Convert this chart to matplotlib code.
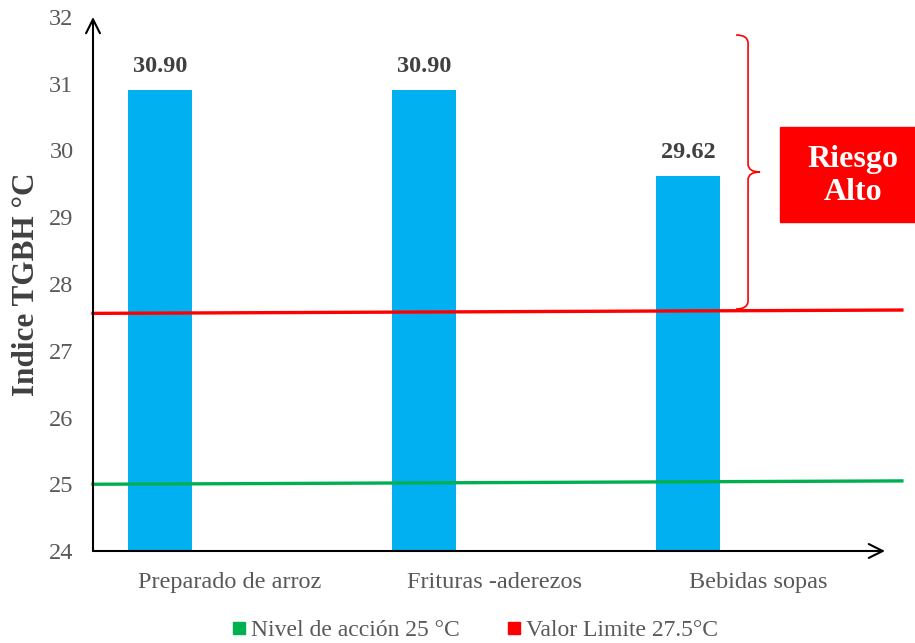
import matplotlib.pyplot as plt
import matplotlib.lines as mlines
from matplotlib.path import Path
from matplotlib.patches import PathPatch, Rectangle

# data
categories = ['Preparado de arroz', 'Frituras -aderezos', 'Bebidas sopas']
tgbh = [30.90, 30.90, 29.62]
nivel_accion = [25.0, 25.05]      # left / right end of the drawn line
valor_limite = [27.56, 27.61]
y_ticks = [24, 25, 26, 27, 28, 29, 30, 31, 32]
legend_labels = ['Nivel de acción 25 °C', 'Valor Limite 27.5°C']

plt.rcParams['font.family'] = ['Liberation Serif', 'DejaVu Serif']

fig = plt.figure(figsize=(9.15, 6.43), dpi=100)
ax = fig.add_axes([93 / 915, 1 - 551 / 643, 792 / 915, 534 / 643])

x = list(range(len(categories)))
ax.bar(x, tgbh, width=0.242, color='#00B0F0', zorder=2)
for xi, v in zip(x, tgbh):
    ax.text(xi, v + 0.2, f'{v:.2f}', ha='center', va='bottom',
            fontsize=17.5, fontweight='bold', color='#404040')

xmin, xmax = -0.254, 2.746
ax.set_xlim(xmin, xmax)
ax.set_ylim(24, 32)

# reference lines (slightly extend past the axis like the original)
xl = [xmin, 2.81]
ax.plot(xl, nivel_accion, color='#00B050', lw=2.4, clip_on=False, zorder=3)
ax.plot(xl, valor_limite, color='#FF0000', lw=2.4, clip_on=False, zorder=3)

# axes with arrows
for s in ax.spines.values():
    s.set_visible(False)
ax.annotate('', xy=(xmin, 32), xytext=(xmin, 24),
            arrowprops=dict(arrowstyle='->', color='black', lw=1.5,
                            mutation_scale=25, shrinkA=0, shrinkB=0))
ax.annotate('', xy=(xmax, 24), xytext=(xmin, 24),
            arrowprops=dict(arrowstyle='->', color='black', lw=1.5,
                            mutation_scale=25, shrinkA=0, shrinkB=0))

ax.set_yticks(y_ticks)
# category labels sit a bit right of the bars in the original
ax.set_xticks([xi + 0.265 for xi in x])
ax.set_xticklabels(categories)
ax.tick_params(axis='both', length=0, labelsize=17.5, colors='#595959')
ax.tick_params(axis='x', pad=15)
ax.tick_params(axis='y', pad=14)
ax.set_ylabel('Indice TGBH °C', fontsize=22.5, fontweight='bold',
              color='#404040', labelpad=6)

# curly brace
def px(p):
    return (p - 160) / 264

def py(p):
    return 24 + (551 - p) / 66.75

bx, hx, tx = px(748), px(736), px(760)
top, mid, bot = py(35), py(172), py(309)
d = 0.12
verts = [(hx, top), (bx, top), (bx, top - d),
         (bx, mid + d),
         (bx, mid), (tx, mid),
         (bx, mid), (bx, mid - d),
         (bx, bot + d),
         (bx, bot), (hx, bot)]
codes = [Path.MOVETO, Path.CURVE3, Path.CURVE3,
         Path.LINETO,
         Path.CURVE3, Path.CURVE3,
         Path.CURVE3, Path.CURVE3,
         Path.LINETO,
         Path.CURVE3, Path.CURVE3]
ax.add_patch(PathPatch(Path(verts, codes), fill=False, edgecolor='#FF0000',
                       lw=1.2, clip_on=False))

# Riesgo Alto box
fig.patches.append(Rectangle((780 / 915, 1 - 222 / 643), 135 / 915, 95 / 643,
                             transform=fig.transFigure, color='#FF0000'))
fig.text(853 / 915, 1 - 176 / 643, 'Riesgo\nAlto', ha='center', va='center',
         fontsize=23, fontweight='bold', color='white', linespacing=1.2)

handles = [mlines.Line2D([], [], marker='s', ls='', color='#00B050', markersize=8),
           mlines.Line2D([], [], marker='s', ls='', color='#FF0000', markersize=8)]
leg = fig.legend(handles, legend_labels,
                 loc='center', bbox_to_anchor=(475 / 915, 1 - 630 / 643),
                 ncol=2, frameon=False, fontsize=17, handlelength=0.6,
                 handletextpad=0.2, columnspacing=2.0)
for t in leg.get_texts():
    t.set_color('#595959')

fig.savefig('out.png', dpi=100)
